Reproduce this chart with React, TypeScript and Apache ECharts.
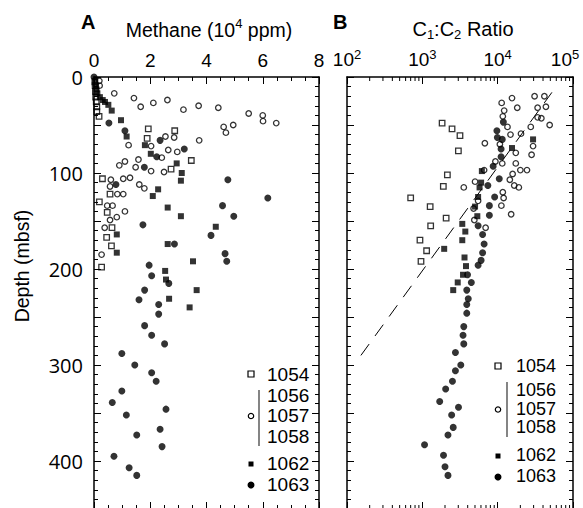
import React, { useEffect, useRef } from 'react';
import * as echarts from 'echarts';

// ---------- Data ----------
// Panel A: [methane (10^4 ppm), depth (mbsf)]
const methane1054: [number, number][] = [
  [0.03, 5], [0.04, 9], [0.05, 15], [0.06, 21], [0.08, 26], [0.1, 31], [0.1, 36], [0.18, 41],
  [1.93, 54], [2.87, 56], [1.89, 64], [3.46, 87], [2.74, 96], [0.3, 106], [0.57, 122], [0.19, 130],
  [0.47, 141], [0.64, 157], [0.45, 167], [0.62, 176], [0.27, 198],
];
const methane1056to1058: [number, number][] = [
  [0.19, 4], [0.2, 9], [0.72, 17], [1.42, 22], [1.66, 31], [2.11, 27], [2.61, 24], [3.18, 34],
  [3.72, 30], [4.42, 32], [5.5, 38], [6.0, 40], [6.01, 46], [6.48, 48], [4.61, 52], [4.95, 50],
  [4.69, 58], [3.74, 66], [2.54, 62], [2.85, 63], [1.23, 71], [2.03, 72], [2.64, 76], [2.96, 78],
  [2.41, 84], [1.1, 88], [0.9, 92], [1.58, 86], [1.48, 94], [2.03, 98], [2.49, 99], [1.04, 106],
  [1.28, 105], [0.6, 107], [0.57, 114], [1.61, 112], [1.79, 116], [0.83, 122], [1.04, 122],
  [0.47, 134], [0.66, 134], [1.1, 140], [0.81, 146], [0.57, 149], [0.38, 157], [0.27, 185],
];
const methane1062: [number, number][] = [
  [0.04, 4], [0.07, 9], [0.09, 13], [0.12, 17], [0.21, 21], [0.31, 24], [0.39, 26], [0.51, 29],
  [0.63, 35], [0.96, 45], [1.16, 62], [1.81, 71], [2.02, 80], [2.94, 90], [3.12, 100], [3.09, 108],
  [2.28, 117], [2.09, 124], [2.62, 136], [3.09, 145], [4.33, 156], [0.81, 164], [2.62, 174],
  [0.81, 183], [3.52, 192], [2.53, 202], [2.56, 211], [3.65, 222], [2.67, 231], [3.4, 240],
];
const methane1063: [number, number][] = [
  [0, 0], [0.53, 48], [1.1, 56], [2.35, 66], [3.21, 75], [2.23, 83], [1.79, 94], [4.76, 107],
  [0.78, 112], [6.18, 126], [4.57, 134], [4.97, 145], [1.74, 154], [4.16, 165], [2.86, 174],
  [4.66, 184], [4.72, 192], [1.96, 196], [2.05, 207], [2.66, 215], [1.8, 222], [1.6, 232],
  [2.3, 237], [2.3, 247], [1.8, 259], [2.05, 269], [2.51, 278], [0.99, 288], [1.45, 300],
  [2.05, 308], [2.21, 317], [0.99, 327], [0.65, 339], [2.56, 346], [1.15, 352], [2.35, 367],
  [1.52, 373], [2.42, 385], [0.71, 395], [1.25, 407], [1.52, 415],
];

// Panel B: [C1:C2 ratio, depth (mbsf)]
const ratio1054: [number, number][] = [
  [1830, 48], [2480, 54], [3160, 61], [3010, 77], [2150, 102], [1900, 114], [700, 126],
  [1270, 135], [2070, 147], [1290, 155], [930, 170], [1140, 181], [960, 192],
];
const ratio1056to1058: [number, number][] = [
  [11300, 27], [15500, 22], [30900, 20], [41700, 20], [18200, 32], [12200, 35], [33900, 32],
  [43700, 31], [11700, 41], [33900, 42], [38000, 43], [49000, 50], [27500, 52], [13500, 52],
  [20400, 59], [14800, 60], [6760, 69], [10700, 70], [29500, 72], [17400, 79], [28200, 81],
  [9330, 88], [11500, 90], [17400, 90], [6610, 97], [20000, 97], [24500, 97], [15800, 101],
  [14500, 107], [5010, 109], [16600, 113], [19100, 115], [3550, 115], [11700, 120], [12000, 126],
  [11200, 134], [15100, 143], [4790, 137], [5500, 129], [4900, 149], [6920, 157],
];
const ratio1062: [number, number][] = [
  [29500, 65], [15500, 74], [6170, 98], [6030, 110], [5750, 115], [5500, 125], [5010, 135],
  [5370, 145], [3390, 153], [3720, 161], [3390, 170], [1950, 179], [3630, 188], [3800, 197],
  [3470, 206], [2950, 214], [2570, 222],
];
const ratio1063: [number, number][] = [
  [11900, 47], [9770, 56], [9910, 63], [11500, 65], [11100, 75], [11100, 83], [8710, 93],
  [10500, 106], [7410, 113], [9120, 125], [7760, 134], [7760, 144], [5500, 155], [6310, 164],
  [6610, 174], [6310, 183], [6030, 191], [5500, 196], [3980, 206], [4470, 214], [3890, 222],
  [4070, 231], [3890, 237], [3890, 246], [3550, 260], [3470, 269], [3550, 278], [2750, 287],
  [3240, 300], [2750, 306], [2510, 317], [2040, 325], [1700, 338], [3020, 344], [2450, 352],
  [2570, 365], [2190, 373], [1070, 383], [1910, 394], [2000, 406], [2190, 415],
];
const ratioTrendLine: [number, number][] = [[153, 290], [52500, 16]];

// Axis / label settings
const methaneRange = [0, 8];
const depthRange = [0, 450];
const ratioRange = [100, 100000];
const ratioMinorTicks = [
  200, 300, 400, 500, 600, 700, 800, 900,
  2000, 3000, 4000, 5000, 6000, 7000, 8000, 9000,
  20000, 30000, 40000, 50000, 60000, 70000, 80000, 90000,
];
const legendSites = ['1054', '1056', '1057', '1058', '1062', '1063'];

const SANS = "'Liberation Sans', Arial, Helvetica, sans-serif";
const DEPTH_FONT = "'Open Sans', 'Noto Sans', sans-serif";

const lineStyleBlack = { color: '#000', width: 1.5 };

function valueXAxis(gridIndex: number, position: 'top' | 'bottom', showLabel: boolean) {
  return {
    gridIndex,
    type: 'value',
    position,
    min: methaneRange[0],
    max: methaneRange[1],
    interval: 2,
    axisLine: { show: true, onZero: false, lineStyle: lineStyleBlack },
    axisTick: { show: true, inside: true, length: 7, lineStyle: { color: '#000', width: 1 } },
    minorTick: { show: true, splitNumber: 4, length: 4, lineStyle: { color: '#000', width: 1 } },
    axisLabel: {
      show: showLabel, margin: 7, color: '#000', fontSize: 19, fontFamily: SANS,
    },
    splitLine: { show: false },
    minorSplitLine: { show: false },
  };
}

function logXAxis(gridIndex: number, position: 'top' | 'bottom', showLabel: boolean) {
  return {
    gridIndex,
    type: 'log',
    logBase: 10,
    position,
    min: ratioRange[0],
    max: ratioRange[1],
    axisLine: { show: true, onZero: false, lineStyle: lineStyleBlack },
    axisTick: { show: true, inside: true, length: 7, lineStyle: { color: '#000', width: 1 } },
    axisLabel: {
      show: showLabel,
      margin: 7,
      color: '#000',
      hideOverlap: false,
      formatter: (v: number) => {
        const e = Math.round(Math.log10(v));
        return e === 5 ? `{b|10}{t|${e}}` : `{b|10}{s|${e}}`;
      },
      rich: {
        b: { fontSize: 19, fontFamily: SANS, color: '#000', lineHeight: 22 },
        s: { fontSize: 13, fontFamily: SANS, color: '#000', lineHeight: 13, verticalAlign: 'top' },
        t: { fontSize: 13, fontFamily: SANS, color: '#000', lineHeight: 13, verticalAlign: 'top', padding: [0, 16, 0, 0] },
      },
    },
    splitLine: { show: false },
  };
}

function depthAxis(gridIndex: number, position: 'left' | 'right', showLabel: boolean) {
  return {
    gridIndex,
    type: 'value',
    position,
    inverse: true,
    min: depthRange[0],
    max: depthRange[1],
    interval: 50,
    axisLine: { show: true, onZero: false, lineStyle: lineStyleBlack },
    axisTick: { show: true, inside: true, length: 7, lineStyle: { color: '#000', width: 1 } },
    minorTick: { show: true, splitNumber: 5, length: 4, lineStyle: { color: '#000', width: 1 } },
    axisLabel: {
      show: showLabel,
      margin: 11,
      color: '#000',
      fontSize: 20,
      fontWeight: 'normal',
      fontFamily: DEPTH_FONT,
      formatter: (v: number) => (v % 100 === 0 ? String(v) : ''),
    },
    splitLine: { show: false },
    minorSplitLine: { show: false },
  };
}

const openStyle = { color: 'rgba(0,0,0,0)', borderColor: '#000', borderWidth: 1.3 };
const filledStyle = { color: '#000' };

function scatter(name: string, data: [number, number][], xi: number, yi: number, symbol: string, size: number, open: boolean) {
  return {
    name,
    type: 'scatter',
    xAxisIndex: xi,
    yAxisIndex: yi,
    data,
    symbol,
    symbolSize: size,
    itemStyle: open ? openStyle : filledStyle,
    silent: true,
  };
}

function legendGraphics(x0: number, textX: number, ys: number[], bar: [number, number, number], fontSize: number) {
  const [y1054, y1056, y1057, y1058, y1062, y1063] = ys;
  const txt = (t: string, y: number) => ({
    type: 'text',
    x: textX,
    y,
    silent: true,
    style: { text: t, fontSize, lineHeight: fontSize, fontFamily: SANS, fill: '#000', align: 'left', verticalAlign: 'middle' },
  });
  return [
    { type: 'rect', silent: true, shape: { x: x0 - 3, y: y1054 - 3, width: 6, height: 6 }, style: { fill: 'none', stroke: '#000', lineWidth: 1.2 } },
    txt(legendSites[0], y1054),
    { type: 'line', silent: true, shape: { x1: bar[0], y1: bar[1], x2: bar[0], y2: bar[2] }, style: { stroke: '#333', lineWidth: 1.2 } },
    txt(legendSites[1], y1056),
    txt(legendSites[2], y1057),
    txt(legendSites[3], y1058),
    { type: 'circle', silent: true, shape: { cx: x0, cy: y1057 + 1, r: 2.7 }, style: { fill: 'none', stroke: '#000', lineWidth: 1.2 } },
    txt(legendSites[4], y1062),
    { type: 'rect', silent: true, shape: { x: x0 - 2.5, y: y1062 - 1.5, width: 5, height: 5 }, style: { fill: '#000' } },
    txt(legendSites[5], y1063),
    { type: 'circle', silent: true, shape: { cx: x0, cy: y1063 + 1, r: 3.5 }, style: { fill: '#000' } },
  ];
}

export default function App() {
  const ref = useRef<HTMLDivElement>(null);
  useEffect(() => {
    if (!ref.current) return;
    const chart = echarts.init(ref.current, undefined, { renderer: 'svg' });
    const gridTop = 77;
    const gridHeight = 432;
    const option: any = {
      animation: false,
      backgroundColor: '#fff',
      grid: [
        { left: 94, top: gridTop, width: 225, height: gridHeight, containLabel: false, outerBoundsMode: 'none' },
        { left: 347, top: gridTop, width: 226, height: gridHeight, containLabel: false, outerBoundsMode: 'none' },
      ],
      xAxis: [
        valueXAxis(0, 'top', true),
        valueXAxis(0, 'bottom', false),
        logXAxis(1, 'top', true),
        logXAxis(1, 'bottom', false),
      ],
      yAxis: [
        depthAxis(0, 'left', true),
        depthAxis(0, 'right', false),
        depthAxis(1, 'left', false),
        depthAxis(1, 'right', false),
      ],
      series: [
        scatter('1063', methane1063, 0, 0, 'circle', 7, false),
        scatter('1062', methane1062, 0, 0, 'rect', 6, false),
        scatter('1054', methane1054, 0, 0, 'rect', 5.5, true),
        scatter('1056-1058', methane1056to1058, 0, 0, 'circle', 5.5, true),
        scatter('1063', ratio1063, 2, 2, 'circle', 7, false),
        scatter('1062', ratio1062, 2, 2, 'rect', 6, false),
        scatter('1054', ratio1054, 2, 2, 'rect', 5.5, true),
        scatter('1056-1058', ratio1056to1058, 2, 2, 'circle', 5.5, true),
        {
          type: 'line',
          xAxisIndex: 2,
          yAxisIndex: 2,
          data: ratioTrendLine,
          symbol: 'none',
          silent: true,
          lineStyle: { color: '#000', width: 1, type: [14, 10] },
        },
        {
          type: 'custom',
          xAxisIndex: 2,
          yAxisIndex: 2,
          silent: true,
          clip: false,
          data: ratioMinorTicks.map((v) => [v, depthRange[0]]),
          renderItem: (_params: any, api: any) => {
            const v = api.value(0);
            const top = api.coord([v, depthRange[0]]);
            const bot = api.coord([v, depthRange[1]]);
            return {
              type: 'group',
              children: [
                { type: 'line', shape: { x1: top[0], y1: top[1], x2: top[0], y2: top[1] + 4 }, style: { stroke: '#000', lineWidth: 1 } },
                { type: 'line', shape: { x1: bot[0], y1: bot[1], x2: bot[0], y2: bot[1] - 4 }, style: { stroke: '#000', lineWidth: 1 } },
              ],
            };
          },
        },
      ],
      graphic: [
        { type: 'text', x: 81, y: 22, silent: true, style: { text: 'A', fontSize: 20, fontWeight: 'bold', fontFamily: SANS, fill: '#000', verticalAlign: 'middle' } },
        { type: 'text', x: 333, y: 22, silent: true, style: { text: 'B', fontSize: 20, fontWeight: 'bold', fontFamily: SANS, fill: '#000', verticalAlign: 'middle' } },
        {
          type: 'text', x: 209, y: 30, silent: true,
          style: {
            text: '{a|Methane (10}{s|4}{a| ppm)}', align: 'center', verticalAlign: 'middle',
            rich: {
              a: { fontSize: 19.5, fontFamily: SANS, fill: '#000', color: '#000', lineHeight: 26 },
              s: { fontSize: 13, fontFamily: SANS, fill: '#000', color: '#000', lineHeight: 13, verticalAlign: 'top' },
            },
          },
        },
        {
          type: 'text', x: 463, y: 29, silent: true,
          style: {
            text: '{a|C}{u|1}{a|:C}{u|2}{a| Ratio}', align: 'center', verticalAlign: 'middle',
            rich: {
              a: { fontSize: 20, fontFamily: SANS, fill: '#000', color: '#000', lineHeight: 24 },
              u: { fontSize: 13, fontFamily: SANS, fill: '#000', color: '#000', lineHeight: 13, verticalAlign: 'bottom' },
            },
          },
        },
        {
          type: 'text', x: 22, y: 266, rotation: Math.PI / 2, silent: true,
          style: { text: 'Depth (mbsf)', fontSize: 19.5, fontFamily: SANS, fill: '#000', align: 'center', verticalAlign: 'middle' },
        },
        ...legendGraphics(251, 267, [374, 395, 415, 436, 463, 484], [259, 390, 446], 19),
        ...legendGraphics(498, 516, [366, 390, 408.5, 427, 455, 476], [507, 382, 437], 18),
      ],
    };
    chart.setOption(option);
    return () => chart.dispose();
  }, []);
  return (
    <div
      ref={ref}
      style={{ position: 'absolute', left: 0, top: 0, width: 583, height: 520, background: '#fff' }}
    />
  );
}
